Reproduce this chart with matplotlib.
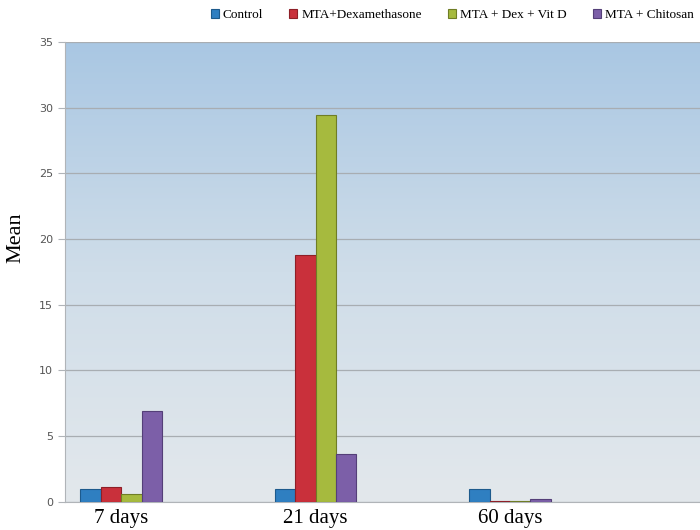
import numpy as np
import matplotlib
matplotlib.use("Agg")
import matplotlib.pyplot as plt
from matplotlib.colors import LinearSegmentedColormap

# data
groups = ['7 days', '21 days', '60 days']
series = ['Control', 'MTA+Dexamethasone', 'MTA + Dex + Vit D', 'MTA + Chitosan']
control = [1.0, 1.0, 1.0]
mta_dex = [1.1, 18.8, 0.1]
mta_dex_vitd = [0.6, 29.4, 0.05]
mta_chitosan = [6.9, 3.65, 0.2]

colors = ['#2f7fc1', '#c9303b', '#a6ba3e', '#7c5fa8']
edges = ['#1d5a8c', '#8e1f27', '#6f7d25', '#543f78']

fig = plt.figure(figsize=(7, 5.3), dpi=100)
ax = fig.add_axes([0.093, 0.053, 0.907, 0.868])

x = np.arange(len(groups))
width = 0.105
values = [control, mta_dex, mta_dex_vitd, mta_chitosan]

# gradient background
cmap = LinearSegmentedColormap.from_list('bg', ['#e3e8ec', '#cfdde9', '#a9c7e3'])
grad = np.linspace(0, 1, 256).reshape(-1, 1)
ax.imshow(grad, extent=[-0.288, 2.977, 0, 35], aspect='auto', origin='lower',
          cmap=cmap, zorder=0)

for i, vals in enumerate(values):
    ax.bar(x + (i - 1.5) * width, vals, width, color=colors[i], edgecolor=edges[i],
           linewidth=0.8, label=series[i], zorder=3)

ax.set_xlim(-0.288, 2.977)
ax.set_ylim(0, 35)
ax.set_yticks(range(0, 36, 5))
ax.yaxis.grid(True, color='#a8adb2', linewidth=0.9, zorder=1)
ax.set_axisbelow(True)

for s in ['top', 'right']:
    ax.spines[s].set_visible(False)
ax.spines['left'].set_color('#b0b4b8')
ax.spines['bottom'].set_color('#b0b4b8')

ax.tick_params(axis='y', colors='#b0b4b8', labelcolor='#555555', labelsize=8, length=5)
ax.tick_params(axis='x', length=0, pad=5)
ax.set_xticks(x)
ax.set_xticklabels(groups, fontfamily='Liberation Serif', fontsize=15)
fig.text(16 / 700, 1 - 238 / 530, 'Mean', rotation=90, ha='center', va='center',
         fontfamily='Liberation Serif', fontsize=16)

fig.legend(loc='upper right', bbox_to_anchor=(1.008, 1.005), ncol=4, frameon=False,
           prop={'family': 'Liberation Serif', 'size': 9.5}, handlelength=0.6,
           handleheight=0.6, handletextpad=0.3, columnspacing=2.0)

fig.savefig('out.png', dpi=100)
